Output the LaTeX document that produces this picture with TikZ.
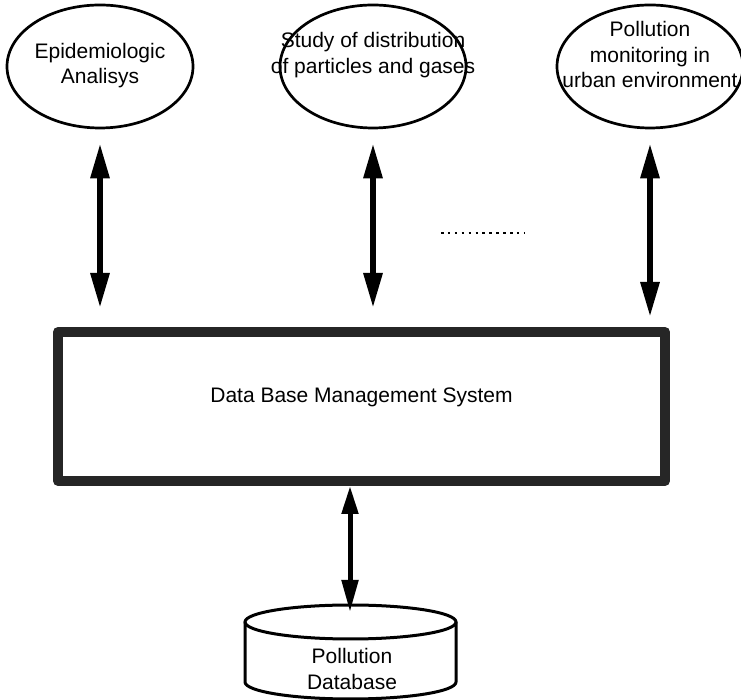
\documentclass[tikz,border=0pt]{standalone}
\usepackage{fontspec}
\setmainfont{Liberation Sans}
\usetikzlibrary{arrows.meta,shapes.geometric}
\begin{document}
\begin{tikzpicture}[line cap=round,line join=round,x=1pt,y=1pt,
  font=\fontsize{21}{25.5}\selectfont,
  topic/.style={ellipse,draw,line width=2.7pt,minimum width=186pt,minimum height=123pt,inner sep=0pt},
  txt/.style={align=center,inner sep=0pt},
  bigarrow/.style={line width=6pt,{Triangle[length=35pt,width=18pt]}-{Triangle[length=35pt,width=18pt]}},
  dbarrow/.style={line width=5pt,{Triangle[length=28pt,width=16pt]}-{Triangle[length=32pt,width=16pt]}}]
\useasboundingbox (0,0) rectangle (741,700);
% applications
\node[topic] (epi) at (100,633.5) {};
\node[topic] (dist) at (373,633.5) {};
\node[topic] (mon) at (650,633.5) {};
\node[txt] (epi-t) at (100,634.5) {Epidemiologic\\Analisys};
\node[txt] (dist-t) at (373,645) {Study of distribution\\of particles and gases};
\node[txt] (mon-t) at (650,645) {Pollution\\monitoring in\\urban environment};
\draw[line width=2.5pt,line cap=butt,dash pattern=on 2.5pt off 4.4pt] (441,467)--(524,467);
% dbms
\node[draw=black!85,line width=10pt,minimum width=607pt,minimum height=149pt,inner sep=0pt] (dbms) at (361.5,293.5) {};
\node[txt] (dbms-t) at (361.5,303) {Data Base Management System};
\foreach \n/\s in {epi/19pt,dist/19pt,mon/10pt}
{
\draw[bigarrow,shorten <=14pt,shorten >=\s] (\n.south)--(\n.south |- dbms.north);
}
% database
\draw[line width=3pt] (245,78)--(245,18) arc[start angle=180,end angle=360,x radius=105.5,y radius=17]--(456,78);
\draw[line width=3pt] (350.5,78) ellipse [x radius=105.5,y radius=17];
\node[txt] (db) at (352,31) {Pollution\\Database};
\coordinate (dbtop) at (350,88);
\draw[dbarrow] (dbms.south -| dbtop)--(dbtop);
\end{tikzpicture}
\end{document}
